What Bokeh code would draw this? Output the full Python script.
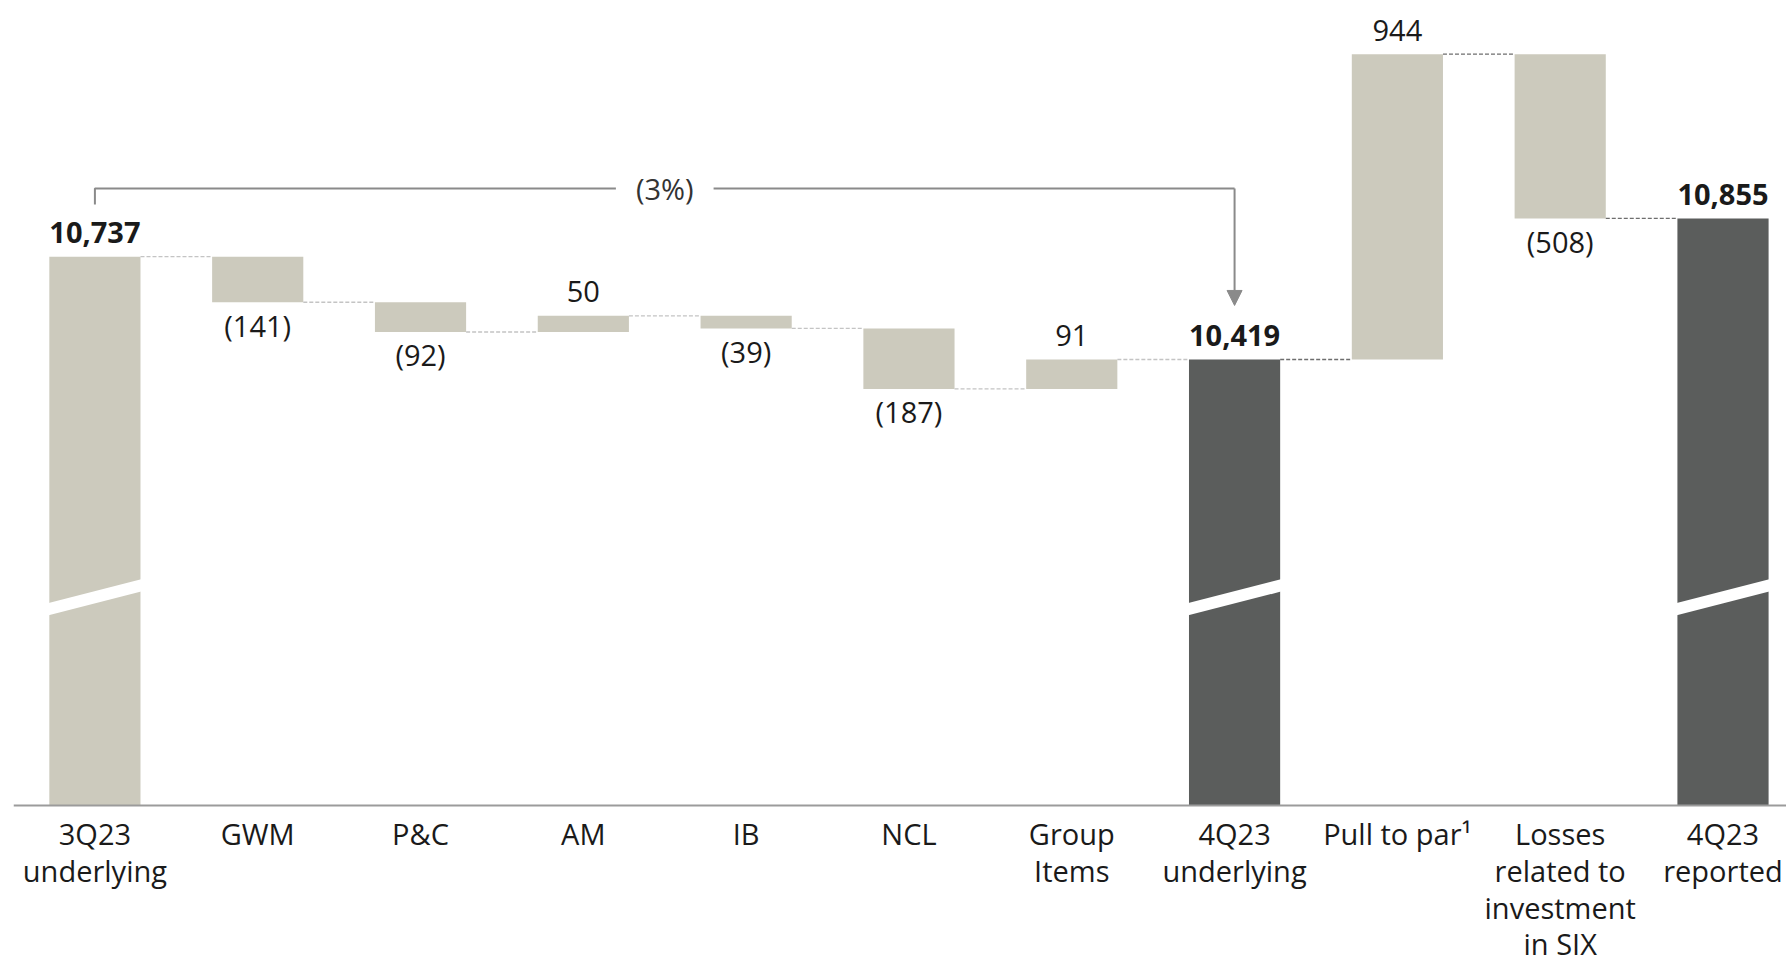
from bokeh.plotting import figure
from bokeh.models import Range1d, ColumnDataSource, Arrow, NormalHead, Span
from bokeh.core.properties import value
from bokeh.embed import file_html
from bokeh.resources import INLINE

# ---- data ----
categories = ["3Q23\nunderlying", "GWM", "P&C", "AM", "IB", "NCL", "Group\nItems",
              "4Q23\nunderlying", "Pull to par\u00b9", "Losses\nrelated to\ninvestment\nin SIX",
              "4Q23\nreported"]
kinds = ["total", "delta", "delta", "delta", "delta", "delta", "delta",
         "total", "delta", "delta", "total"]
amounts = [10737, -141, -92, 50, -39, -187, 91, 10419, 944, -508, 10855]
change_label = "(3%)"

# ---- layout constants ----
FONT = "Open Sans"
LIGHT = "#CCCABD"
DARK = "#5B5D5C"
TXT = "#1a1a1a"
GREY = "#8a8a8a"
BASE = 9040          # visible start of the (broken) value axis
Y_MIN, Y_MAX = 8542, 11529
BAR_W = 0.56

xs = list(range(len(categories)))
bottoms, tops, colors, labels, lab_y, lab_off, lab_style, levels = [], [], [], [], [], [], [], []
running = 0
for i, (k, a) in enumerate(zip(kinds, amounts)):
    if k == "total":
        b, t = BASE, a
        running = a
        colors.append(LIGHT if i == 0 else DARK)
        labels.append(f"{a:,}")
        lab_y.append(t); lab_off.append(-24); lab_style.append("bold")
    else:
        b, t = min(running, running + a), max(running, running + a)
        running += a
        colors.append(LIGHT)
        if a >= 0:
            labels.append(f"{a:,}")
            lab_y.append(t); lab_off.append(-24)
        else:
            labels.append(f"({abs(a):,})")
            lab_y.append(b); lab_off.append(23)
        lab_style.append("normal")
    bottoms.append(b); tops.append(t); levels.append(running)

p = figure(width=1786, height=966, x_range=Range1d(-0.5, 10.39), y_range=Range1d(Y_MIN, Y_MAX),
           output_backend="svg", toolbar_location=None,
           min_border_left=13, min_border_right=0, min_border_top=0, min_border_bottom=0)
p.outline_line_color = None
p.grid.visible = False
p.axis.visible = False
p.background_fill_color = "white"
p.border_fill_color = "white"

src = ColumnDataSource(dict(x=xs, bottom=bottoms, top=tops, color=colors))
p.vbar(x="x", width=BAR_W, bottom="bottom", top="top", fill_color="color", line_color=None, source=src)

# baseline (category axis line)
p.add_layout(Span(location=BASE, dimension="width", line_color="#9b9b9b", line_width=2))

# category labels
p.text(x=xs, y=[BASE] * len(xs), text=categories, y_offset=9, text_align="center",
       text_baseline="top", text_font=value(FONT), text_font_size="29px",
       text_color=TXT, text_line_height=0.94)

# axis-break slashes on total bars
bx, by = [], []
for i, k in enumerate(kinds):
    if k == "total":
        xl, xr = i - BAR_W / 2 - 0.01, i + BAR_W / 2 + 0.01
        yl, yr = BASE + 606, BASE + 681
        bx.append([xl, xr, xr, xl])
        by.append([yl - 19, yr - 19, yr + 19, yl + 19])
p.patches(bx, by, fill_color="white", line_color=None)

# connectors
for i in range(len(xs) - 1):
    col = "#c4c4c4" if i < 7 else "#6e6e6e"
    p.segment(x0=[i + BAR_W / 2], x1=[i + 1 - BAR_W / 2], y0=[levels[i]], y1=[levels[i]],
              line_color=col, line_width=1.3, line_dash="4 2")

# value labels
for style in ("normal", "bold"):
    idx = [j for j in range(len(xs)) if lab_style[j] == style]
    p.text(x=[xs[j] for j in idx], y=[lab_y[j] for j in idx], text=[labels[j] for j in idx],
           y_offset=[lab_off[j] for j in idx], text_align="center", text_baseline="middle",
           text_font=value(FONT), text_font_size="29px", text_font_style=style, text_color=TXT)

# bracket with change annotation
i0, i1 = 0, 7
bracket_y = amounts[i0] + 211
mid = (i0 + i1) / 2
gap = 0.3
p.line(x=[i0, i0, mid - gap], y=[amounts[i0] + 161, bracket_y, bracket_y], line_color=GREY, line_width=2)
p.line(x=[mid + gap, i1], y=[bracket_y, bracket_y], line_color=GREY, line_width=2)
p.add_layout(Arrow(end=NormalHead(size=15, fill_color=GREY, line_color=GREY),
                   x_start=i1, y_start=bracket_y, x_end=i1, y_end=amounts[i1] + 167,
                   line_color=GREY, line_width=2))
p.text(x=[mid], y=[bracket_y], text=[change_label], text_align="center", text_baseline="middle",
       text_font=value(FONT), text_font_size="29px", text_color="#333333")

open("out.html", "w").write(file_html(p, INLINE))
